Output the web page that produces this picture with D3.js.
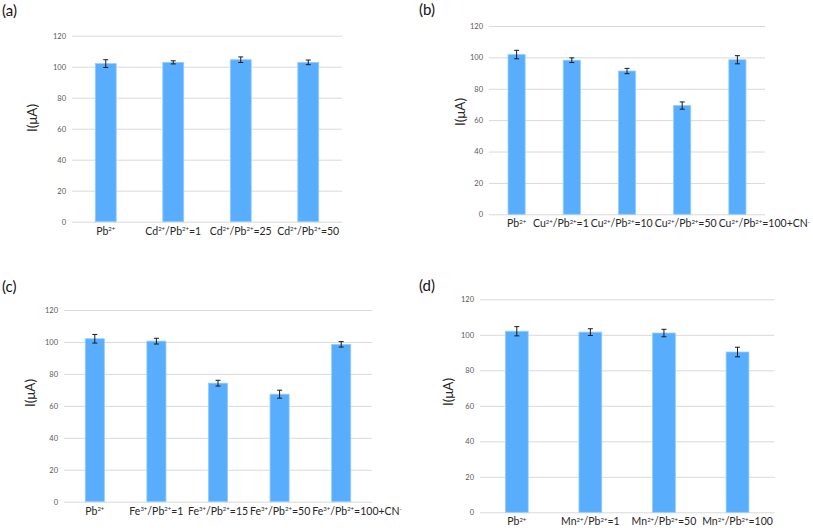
<!DOCTYPE html>
<html>
<head>
<meta charset="utf-8">
<script src="https://cdn.jsdelivr.net/npm/d3@7"></script>
<style>
  html, body { margin: 0; padding: 0; background: #fff; }
  svg { display: block; }
</style>
</head>
<body>
<svg id="chart" width="813" height="528"></svg>
<script>
// ---------- data ----------
const yTicks = [0, 20, 40, 60, 80, 100, 120];

const categoriesA = ["Pb2+", "Cd2+/Pb2+=1", "Cd2+/Pb2+=25", "Cd2+/Pb2+=50"];
const valuesA     = [102, 102.8, 104.5, 102.8];
const errorsA     = [2.5, 1.0, 1.8, 1.5];

const categoriesB = ["Pb2+", "Cu2+/Pb2+=1", "Cu2+/Pb2+=10", "Cu2+/Pb2+=50", "Cu2+/Pb2+=100+CN-"];
const valuesB     = [101.8, 98.2, 91.3, 69.3, 98.5];
const errorsB     = [2.7, 1.5, 1.7, 2.3, 2.6];

const categoriesC = ["Pb2+", "Fe3+/Pb2+=1", "Fe3+/Pb2+=15", "Fe3+/Pb2+=50", "Fe3+/Pb2+=100+CN-"];
const valuesC     = [102, 100.5, 74.2, 67.3, 98.5];
const errorsC     = [2.7, 1.8, 1.8, 2.5, 1.7];

const categoriesD = ["Pb2+", "Mn2+/Pb2+=1", "Mn2+/Pb2+=50", "Mn2+/Pb2+=100"];
const valuesD     = [102, 101.5, 101, 90.3];
const errorsD     = [2.6, 1.9, 2.1, 2.7];

const panelLabels = ["(a)", "(b)", "(c)", "(d)"];
const yTitle = "I(μA)";

// ---------- layout ----------
const panels = [
  { label: panelLabels[0], cats: categoriesA, vals: valuesA, errs: errorsA,
    x0: 72, x1: 342, yTop: 35.7, yZero: 221.7, lx: 2, ly: 16, tx: 32, ty: 118, lim: 405 },
  { label: panelLabels[1], cats: categoriesB, vals: valuesB, errs: errorsB,
    x0: 489, x1: 765, yTop: 26, yZero: 214.3, lx: 419, ly: 15, tx: 460, ty: 112, lim: 810 },
  { label: panelLabels[2], cats: categoriesC, vals: valuesC, errs: errorsC,
    x0: 64, x1: 372, yTop: 310, yZero: 501.7, lx: 2, ly: 292, tx: 30, ty: 393, lim: 406 },
  { label: panelLabels[3], cats: categoriesD, vals: valuesD, errs: errorsD,
    x0: 480, x1: 774.3, yTop: 299.3, yZero: 512.3, lx: 419, ly: 291, tx: 448, ty: 392, lim: 810 }
];

const FONT = "Lato, 'Open Sans', 'Liberation Sans', sans-serif";
const LABEL_SIZE = 10.5;
const SUP_SIZE = 6;
const svg = d3.select("#chart");

// split label like "Cd2+/Pb2+=1" into normal / superscript parts
function parts(label) {
  const re = /(\d\+|-$)/g;
  const out = [];
  let last = 0, m;
  while ((m = re.exec(label)) !== null) {
    const prev = label.slice(0, m.index);
    if (/[A-Za-z]$/.test(prev)) {
      if (m.index > last) out.push({ t: label.slice(last, m.index), sup: false });
      out.push({ t: m[0], sup: true });
      last = m.index + m[0].length;
    }
  }
  if (last < label.length) out.push({ t: label.slice(last), sup: false });
  return out;
}

panels.forEach(p => {
  const g = svg.append("g");

  const x = d3.scaleBand().domain(p.cats).range([p.x0, p.x1])
    .paddingInner(0.69).paddingOuter(0.345);
  const y = d3.scaleLinear().domain([0, 120]).range([p.yZero, p.yTop]);

  // gridlines via axis
  const yAxis = d3.axisLeft(y).tickValues(yTicks).tickSize(-(p.x1 - p.x0)).tickPadding(6);
  const ga = g.append("g").attr("transform", `translate(${p.x0},0)`).call(yAxis);
  ga.select(".domain").remove();
  ga.selectAll(".tick line").attr("stroke", "#d9d9d9").attr("stroke-width", 1);
  ga.selectAll(".tick text").attr("fill", "#595959").attr("font-size", 7.5)
    .attr("font-family", FONT);

  // bars
  g.selectAll("rect.bar").data(p.vals).enter().append("rect")
    .attr("class", "bar")
    .attr("x", (d, i) => x(p.cats[i]))
    .attr("width", x.bandwidth())
    .attr("y", d => y(d))
    .attr("height", d => y(0) - y(d))
    .attr("fill", "#58aefc")
    .attr("stroke", "#94ccff")
    .attr("stroke-width", 0.8);

  // error bars
  const eb = g.selectAll("g.err").data(p.vals).enter().append("g").attr("class", "err");
  eb.append("line")
    .attr("x1", (d, i) => x(p.cats[i]) + x.bandwidth() / 2)
    .attr("x2", (d, i) => x(p.cats[i]) + x.bandwidth() / 2)
    .attr("y1", (d, i) => y(d + p.errs[i]))
    .attr("y2", (d, i) => y(d - p.errs[i]))
    .attr("stroke", "#1a1a1a").attr("stroke-width", 1);
  [1, -1].forEach(s => {
    eb.append("line")
      .attr("x1", (d, i) => x(p.cats[i]) + x.bandwidth() / 2 - 2.5)
      .attr("x2", (d, i) => x(p.cats[i]) + x.bandwidth() / 2 + 2.5)
      .attr("y1", (d, i) => y(d + s * p.errs[i]))
      .attr("y2", (d, i) => y(d + s * p.errs[i]))
      .attr("stroke", "#1a1a1a").attr("stroke-width", 1);
  });

  // x category labels: centred, then collisions resolved
  const labels = p.cats.map(c => {
    const t = g.append("text")
      .attr("y", p.yZero + 13)
      .attr("text-anchor", "start")
      .attr("font-family", FONT)
      .attr("font-size", LABEL_SIZE)
      .attr("fill", "#262626");
    let raised = false;
    parts(c).forEach(seg => {
      const ts = t.append("tspan").text(seg.t);
      if (seg.sup) {
        ts.attr("font-size", SUP_SIZE).attr("dy", raised ? 0 : -3.5);
        raised = true;
      } else {
        if (raised) ts.attr("dy", 3.5);
        raised = false;
      }
    });
    const w = t.node().getComputedTextLength();
    return { t, w, start: x(c) + x.bandwidth() / 2 - w / 2 };
  });
  // forward pass: push right
  for (let i = 1; i < labels.length; i++) {
    const prevEnd = labels[i - 1].start + labels[i - 1].w;
    if (labels[i].start < prevEnd + 2) labels[i].start = prevEnd + 2;
  }
  // backward pass: keep inside limit
  let limit = p.lim;
  for (let i = labels.length - 1; i >= 0; i--) {
    if (labels[i].start + labels[i].w > limit) labels[i].start = limit - labels[i].w;
    limit = labels[i].start - 2;
  }
  labels.forEach(l => l.t.attr("x", l.start));

  // y axis title
  g.append("text")
    .attr("transform", `translate(${p.tx + 5},${p.ty}) rotate(-90)`)
    .attr("text-anchor", "middle")
    .attr("font-family", FONT)
    .attr("font-size", 13.5)
    .attr("fill", "#262626")
    .text(yTitle);

  // panel label
  svg.append("text")
    .attr("x", p.lx).attr("y", p.ly)
    .attr("font-family", FONT)
    .attr("font-size", 15)
    .attr("fill", "#111")
    .text(p.label);
});
</script>
</body>
</html>
